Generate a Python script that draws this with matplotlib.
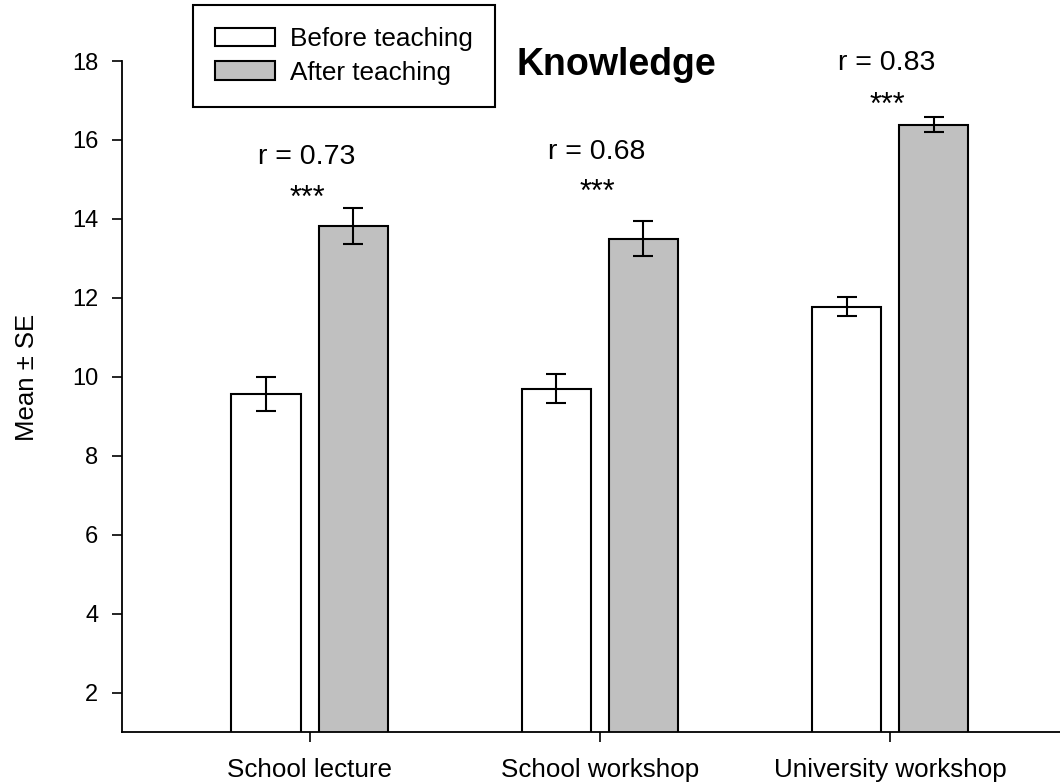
import numpy as np
import matplotlib.pyplot as plt

plt.rcParams['font.family'] = ['Liberation Sans', 'DejaVu Sans']

# Knowledge scores before / after teaching
groups = ['School lecture', 'School workshop', 'University workshop']
before_mean = [9.56, 9.70, 11.78]
before_se = [0.44, 0.37, 0.25]
after_mean = [13.82, 13.50, 16.38]
after_se = [0.46, 0.45, 0.19]
r_values = ['r = 0.73', 'r = 0.68', 'r = 0.83']
r_y = [15.57, 15.69, 17.95]
star_y = [14.50, 14.65, 16.86]

fig = plt.figure(figsize=(10.6, 7.83), dpi=100)
ax = fig.add_axes([122 / 1060, 1 - 732 / 783, 1 - 122 / 1060, (732 - 61) / 783])

x = np.arange(len(groups))
width = 0.241
offset = 0.15
err_kw = dict(ecolor='black', elinewidth=1.5, capsize=7.5, capthick=1.5)

ax.bar(x - offset, before_mean, width, yerr=before_se, color='white',
       edgecolor='black', linewidth=1.5, error_kw=err_kw, label='Before teaching')
ax.bar(x + offset, after_mean, width, yerr=after_se, color='#c0c0c0',
       edgecolor='black', linewidth=1.5, error_kw=err_kw, label='After teaching')

# effect sizes and significance stars above each group
for i in range(len(groups)):
    ax.text(x[i] - 0.01, r_y[i], r_values[i], ha='center', va='center', fontsize=20.5)
    ax.text(x[i] - 0.01, star_y[i], '***', ha='center', va='center', fontsize=22)

ax.text(1.055, 17.9, 'Knowledge', ha='center', va='center', fontsize=27, fontweight='bold')

ax.set_xlim(-0.648, 2.586)
ax.set_ylim(1, 18)
ax.set_yticks(np.arange(2, 19, 2))
ax.set_xticks(x)
ax.set_xticklabels(groups)
ax.tick_params(axis='y', labelsize=17, length=7, width=1.2, direction='out', pad=10)
ax.tick_params(axis='x', labelsize=18.7, length=7, width=1.2, direction='out', pad=12)
ax.set_ylabel('Mean ± SE', fontsize=18.5)
ax.yaxis.set_label_coords(-0.088, 0.529)

for side in ['top', 'right']:
    ax.spines[side].set_visible(False)
for side in ['left', 'bottom']:
    ax.spines[side].set_linewidth(1.3)

leg = fig.legend(loc='upper left', bbox_to_anchor=(193 / 1060, 1 - 5 / 783),
                 fontsize=18.8, frameon=True, fancybox=False, framealpha=1,
                 edgecolor='black', borderaxespad=0, handlelength=2.3,
                 handleheight=0.73, handletextpad=0.55, labelspacing=0.37,
                 borderpad=0.85)
leg.get_frame().set_linewidth(1.5)

fig.savefig('out.png', dpi=100)
